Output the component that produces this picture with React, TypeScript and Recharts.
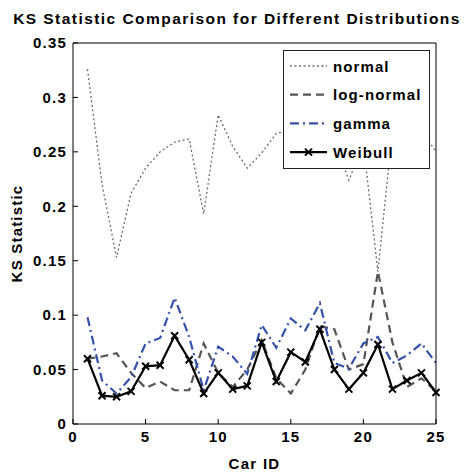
import React from 'react';
import { LineChart, Line, XAxis, YAxis } from 'recharts';

// car ids on the x axis
const carIds = [1, 2, 3, 4, 5, 6, 7, 8, 9, 10, 11, 12, 13, 14, 15, 16, 17, 18, 19, 20, 21, 22, 23, 24, 25];

// KS statistic per distribution
const normalKs = [0.326, 0.22, 0.153, 0.212, 0.235, 0.25, 0.259, 0.262, 0.193, 0.284, 0.255, 0.235, 0.249, 0.267, 0.27, 0.28, 0.265, 0.26, 0.224, 0.257, 0.14, 0.27, 0.26, 0.27, 0.25];
const logNormalKs = [0.06, 0.062, 0.065, 0.047, 0.033, 0.039, 0.031, 0.031, 0.074, 0.047, 0.034, 0.05, 0.077, 0.042, 0.028, 0.05, 0.09, 0.087, 0.05, 0.055, 0.14, 0.075, 0.034, 0.042, 0.03];
const gammaKs = [0.098, 0.04, 0.028, 0.043, 0.074, 0.079, 0.116, 0.08, 0.031, 0.071, 0.062, 0.046, 0.091, 0.07, 0.097, 0.086, 0.111, 0.056, 0.051, 0.074, 0.08, 0.056, 0.063, 0.074, 0.056];
const weibullKs = [0.06, 0.026, 0.025, 0.03, 0.053, 0.054, 0.081, 0.059, 0.028, 0.047, 0.032, 0.035, 0.075, 0.039, 0.066, 0.057, 0.087, 0.05, 0.032, 0.047, 0.073, 0.032, 0.04, 0.047, 0.029];

const xTicks = [0, 5, 10, 15, 20, 25];
const yTicks = [0, 0.05, 0.1, 0.15, 0.2, 0.25, 0.3, 0.35];

const data = carIds.map((id, i) => ({
  id,
  normal: normalKs[i],
  logNormal: logNormalKs[i],
  gamma: gammaKs[i],
  weibull: weibullKs[i],
}));

const FONT = '"Liberation Sans", Arial, Helvetica, sans-serif';
const BLUE = '#3552ab';

const series = [
  { key: 'normal', name: 'normal', stroke: '#6a6a6a', width: 1.3, dash: '2 2.5' },
  { key: 'logNormal', name: 'log-normal', stroke: '#555555', width: 2.2, dash: '8 5' },
  { key: 'gamma', name: 'gamma', stroke: BLUE, width: 2.2, dash: '9 4 2 4' },
  { key: 'weibull', name: 'Weibull', stroke: '#000000', width: 2.2, dash: undefined as string | undefined },
];

const XMark = (props: any) => {
  const { cx, cy } = props;
  if (cx == null || cy == null) return null;
  const s = 3.5;
  return (
    <g stroke="#000" strokeWidth={2}>
      <line x1={cx - s} y1={cy - s} x2={cx + s} y2={cy + s} />
      <line x1={cx - s} y1={cy + s} x2={cx + s} y2={cy - s} />
    </g>
  );
};

const LegendBox = () => (
  <svg width={148} height={120} style={{ display: 'block' }}>
    <rect x={0.5} y={0.5} width={146} height={118} fill="#fff" stroke="#222" strokeWidth={1} />
    {series.map((s, i) => {
      const y = 16 + i * 28.7;
      return (
        <g key={s.key}>
          <line x1={7} x2={44} y1={y} y2={y} stroke={s.stroke} strokeWidth={s.width} strokeDasharray={s.dash} />
          {s.key === 'weibull' && <XMark cx={25.5} cy={y} />}
          <text x={50} y={y + 5.5} fontFamily={FONT} fontWeight="bold" fontSize={15} letterSpacing={1.1} fill="#000">
            {s.name}
          </text>
        </g>
      );
    })}
  </svg>
);

const tickStyle = { fontFamily: FONT, fontWeight: 'bold' as const, fontSize: 15, fill: '#000', letterSpacing: 1.2 };

export default function App() {
  return (
    <div style={{ position: 'absolute', left: 0, top: 0, width: 473, height: 473, background: '#fff' }}>
      <LineChart width={473} height={473} data={data} margin={{ top: 42, right: 36, left: 13, bottom: 19 }}>
        <XAxis
          dataKey="id"
          type="number"
          domain={[0, 25]}
          ticks={xTicks}
          height={30}
          stroke="#000"
          tickSize={-5}
          tickMargin={12}
          tick={tickStyle}
          label={{ value: 'Car ID', position: 'insideBottom', offset: -15, style: { ...tickStyle, letterSpacing: 1.3 } }}
        />
        <XAxis xAxisId="top" dataKey="id" type="number" orientation="top" domain={[0, 25]} ticks={xTicks} height={1} stroke="#000" tickSize={-5} tick={false} />
        <YAxis
          type="number"
          domain={[0, 0.35]}
          ticks={yTicks}
          width={60}
          stroke="#000"
          tickSize={-5}
          tickMargin={11}
          tick={tickStyle}
          label={{ value: 'KS Statistic', angle: -90, position: 'insideLeft', offset: 4, style: { ...tickStyle, textAnchor: 'middle' } }}
        />
        <YAxis yAxisId="right" type="number" orientation="right" domain={[0, 0.35]} ticks={yTicks} width={1} stroke="#000" tickSize={-5} tick={false} />
        <Line xAxisId="top" yAxisId="right" dataKey="weibull" stroke="none" dot={false} activeDot={false} isAnimationActive={false} />
        {series.map((s) => (
          <Line
            key={s.key}
            dataKey={s.key}
            name={s.name}
            type="linear"
            stroke={s.stroke}
            strokeWidth={s.width}
            strokeDasharray={s.dash}
            dot={s.key === 'weibull' ? <XMark /> : false}
            activeDot={false}
            isAnimationActive={false}
          />
        ))}
        <text x={237} y={24} textAnchor="middle" fontFamily={FONT} fontWeight="bold" fontSize={15.5} letterSpacing={1.45} fill="#000">
          KS Statistic Comparison for Different Distributions
        </text>
      </LineChart>
      <div style={{ position: 'absolute', left: 283, top: 50 }}>
        <LegendBox />
      </div>
    </div>
  );
}
